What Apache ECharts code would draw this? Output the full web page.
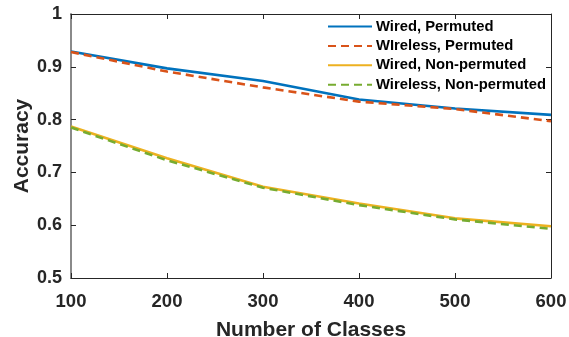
<!DOCTYPE html>
<html>
<head>
<meta charset="utf-8">
<script src="https://cdn.jsdelivr.net/npm/echarts@6/dist/echarts.min.js"></script>
<style>
  html, body { margin: 0; padding: 0; background: #fff; }
  #chart { width: 569px; height: 337px; }
</style>
</head>
<body>
<div id="chart"></div>
<script>
// Classification accuracy versus number of classes
const classes = [100, 200, 300, 400, 500, 600];
const wiredPermuted = [0.929, 0.897, 0.873, 0.838, 0.821, 0.809];
const wirelessPermuted = [0.928, 0.891, 0.861, 0.834, 0.820, 0.797];
const wiredNonPermuted = [0.787, 0.727, 0.673, 0.641, 0.613, 0.598];
const wirelessNonPermuted = [0.785, 0.723, 0.671, 0.638, 0.611, 0.593];
const seriesNames = ['Wired, Permuted', 'WIreless, Permuted', 'Wired, Non-permuted', 'Wireless, Non-permuted'];

const FONT = '"Liberation Sans", Arial, Helvetica, sans-serif';
const TEXT = '#262626';

function pairs(values) {
  return classes.map((c, i) => [c, values[i]]);
}

function lineSeries(name, values, color, dashed) {
  return {
    name: name,
    type: 'line',
    data: pairs(values),
    symbol: 'none',
    xAxisIndex: 0,
    yAxisIndex: 0,
    lineStyle: { color: color, width: 2.6, type: dashed ? [8, 5] : 'solid' },
    itemStyle: { color: color },
    emphasis: { disabled: true },
    z: 3
  };
}

const chart = echarts.init(document.getElementById('chart'), null, { renderer: 'canvas' });

chart.setOption({
  animation: false,
  backgroundColor: '#fff',
  grid: { left: 71, right: 18, top: 14, bottom: 59, containLabel: false, outerBoundsMode: 'none' },
  legend: {
    data: seriesNames,
    orient: 'vertical',
    left: 322,
    top: 14,
    itemWidth: 44,
    itemHeight: 14,
    itemGap: 4.4,
    selectedMode: false,
    itemStyle: { opacity: 0 },
    textStyle: { fontFamily: FONT, fontWeight: 'bold', fontSize: 14.8, color: '#000', padding: [0, 0, 0, -1] }
  },
  xAxis: [
    {
      type: 'value', min: 100, max: 600, interval: 100,
      position: 'bottom',
      name: 'Number of Classes', nameLocation: 'middle', nameGap: 42, nameMoveOverlap: false,
      nameTextStyle: { fontFamily: FONT, fontWeight: 'bold', fontSize: 21, color: TEXT },
      axisLine: { show: true, lineStyle: { color: TEXT, width: 1 } },
      axisTick: { show: true, inside: true, length: 5, lineStyle: { color: TEXT } },
      axisLabel: { fontFamily: FONT, fontWeight: 'bold', fontSize: 18.5, color: TEXT, margin: 14 },
      splitLine: { show: false }
    },
    {
      type: 'value', min: 100, max: 600, interval: 100,
      position: 'top',
      axisLine: { show: true, lineStyle: { color: TEXT, width: 1 } },
      axisTick: { show: true, inside: true, length: 5, lineStyle: { color: TEXT } },
      axisLabel: { show: false },
      splitLine: { show: false }
    }
  ],
  yAxis: [
    {
      type: 'value', min: 0.5, max: 1, interval: 0.1,
      position: 'left',
      name: 'Accuracy', nameLocation: 'middle', nameGap: 38, nameMoveOverlap: false,
      nameTextStyle: { fontFamily: FONT, fontWeight: 'bold', fontSize: 21, color: TEXT },
      axisLine: { show: true, lineStyle: { color: '#8a8a8a', width: 2 } },
      axisTick: { show: true, inside: true, length: 5, lineStyle: { color: TEXT } },
      axisLabel: {
        fontFamily: FONT, fontWeight: 'bold', fontSize: 18, color: TEXT, margin: 9,
        padding: [7, 0, 0, 0],
        formatter: v => (Math.abs(v - 1) < 1e-9 ? '1' : v.toFixed(1))
      },
      splitLine: { show: false }
    },
    {
      type: 'value', min: 0.5, max: 1, interval: 0.1,
      position: 'right',
      axisLine: { show: true, lineStyle: { color: TEXT, width: 1 } },
      axisTick: { show: true, inside: true, length: 5, lineStyle: { color: TEXT } },
      axisLabel: { show: false },
      splitLine: { show: false }
    }
  ],
  series: [
    lineSeries(seriesNames[0], wiredPermuted, '#0072BD', false),
    lineSeries(seriesNames[1], wirelessPermuted, '#D95319', true),
    lineSeries(seriesNames[2], wiredNonPermuted, '#EDB120', false),
    lineSeries(seriesNames[3], wirelessNonPermuted, '#77AC30', true)
  ]
});
</script>
</body>
</html>
